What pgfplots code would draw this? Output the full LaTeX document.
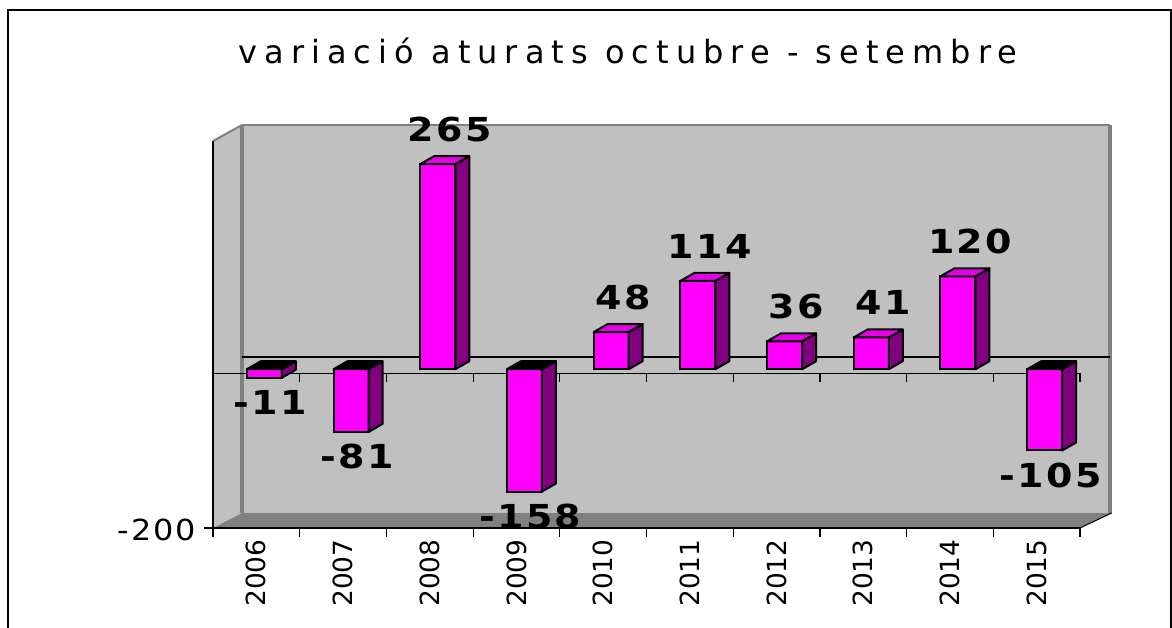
\documentclass[border=0pt]{standalone}
\usepackage{fontspec}
\setmainfont{DejaVu Sans}
\newfontfamily\labfont[LetterSpace=7,FakeStretch=1.15]{DejaVu Sans}
\newfontfamily\titlefont[LetterSpace=22]{DejaVu Sans}
\newfontfamily\yfont[LetterSpace=6,FakeStretch=1.1]{DejaVu Sans}
\usepackage{pgfplots}
\pgfplotsset{compat=1.18}
\usepackage{pgfplotstable}
\definecolor{wall}{HTML}{C0C0C0}
\definecolor{floorc}{HTML}{808080}
\definecolor{sidecol}{HTML}{800080}
\definecolor{mag}{HTML}{FF00FF}
\definecolor{topcol}{HTML}{E600E6}

\pgfplotstableread{
x val
0.5 -11
1.5 -81
2.5 265
3.5 -158
4.5 48
5.5 114
6.5 36
7.5 41
8.5 120
9.5 -105
}\data

% 3D extrusion (side and top faces) of a bar, drawn at the data point
\pgfdeclareplotmark{ext}{%
  \pgfmathsetmacro\hh{\ry*0.387}%
  \pgfmathsetmacro\nh{-\hh}%
  \pgfmathsetmacro\ya{4+\nh}%
  \pgfmathsetmacro\tp{max(0,\nh)}%
  \pgfmathsetmacro\tq{\tp+4}%
  \pgfsetlinewidth{1pt}\pgfsetroundjoin
  \pgfsetstrokecolor{black}%
  \pgfsetfillcolor{sidecol}%
  \pgfpathmoveto{\pgfqpoint{8.75pt}{0pt}}%
  \pgfpathlineto{\pgfqpoint{15.75pt}{4pt}}%
  \pgfpathlineto{\pgfqpoint{15.75pt}{\ya pt}}%
  \pgfpathlineto{\pgfqpoint{8.75pt}{\nh pt}}%
  \pgfpathclose
  \pgfusepath{fill,stroke}%
  \ifdim\hh pt>0pt \pgfsetfillcolor{topcol}\else\pgfsetfillcolor{black}\fi
  \pgfpathmoveto{\pgfqpoint{-8.75pt}{\tp pt}}%
  \pgfpathlineto{\pgfqpoint{8.75pt}{\tp pt}}%
  \pgfpathlineto{\pgfqpoint{15.75pt}{\tq pt}}%
  \pgfpathlineto{\pgfqpoint{-1.75pt}{\tq pt}}%
  \pgfpathclose
  \pgfusepath{fill,stroke}%
}

\begin{document}
\begin{tikzpicture}
\useasboundingbox (0pt,0pt) rectangle (586pt,-313.5pt);
% chart frame
\draw[black, line width=0.7pt] (4pt,-330pt) -- (4pt,-5pt) -- (585.5pt,-5pt) -- (585.5pt,-330pt);
% title
\node[anchor=base, font=\titlefont\fontsize{16}{19}\selectfont] at (314pt,-31.5pt) {variació aturats octubre - setembre};
% side wall
\fill[wall] (106.5pt,-70.5pt) -- (121pt,-62.5pt) -- (121pt,-256.5pt) -- (106.5pt,-264pt) -- cycle;
\draw[floorc, line width=1pt] (106.5pt,-70.5pt) -- (121pt,-62.5pt);
% back wall
\fill[wall] (121pt,-62.5pt) rectangle (555pt,-256.5pt);
\draw[floorc, line width=1pt] (121pt,-62.5pt) -- (555pt,-62.5pt);
\draw[floorc, line width=1.6pt] (121pt,-62.5pt) -- (121pt,-256.5pt);
\draw[floorc, line width=1.6pt] (555pt,-62.5pt) -- (555pt,-257pt);
% floor
\fill[floorc] (106.5pt,-264pt) -- (121pt,-256.5pt) -- (555.8pt,-256.5pt) -- (540pt,-264pt) -- cycle;
\draw[black, line width=0.5pt] (540pt,-264pt) -- (555.8pt,-256.5pt);
% back zero line
\draw[black, line width=0.6pt] (121pt,-178.5pt) -- (555pt,-178.5pt);

\begin{axis}[
  at={(106.5pt,-264pt)}, anchor=south west,
  scale only axis, width=433.5pt, height=193.5pt,
  xmin=0, xmax=10, ymin=-200, ymax=300,
  axis x line*=bottom, axis y line*=left,
  axis line style={black, line width=0.6pt, -},
  xtick={0,1,...,10},
  x tick label as interval,
  xticklabels={2006,2007,2008,2009,2010,2011,2012,2013,2014,2015},
  ytick={-200}, yticklabels={-200},
  tick align=outside,
  major tick length=4.5pt,
  tick style={black, line width=0.6pt},
  xticklabel style={rotate=90, anchor=east, font=\fontsize{13.2}{15}\selectfont, inner sep=1pt},
  yticklabel style={font=\yfont\fontsize{14.5}{16}\selectfont, inner sep=4pt, yshift=-1pt},
  clip=false,
]
\draw[black, line width=0.6pt] (axis cs:0,0) -- (axis cs:10,0);
\pgfplotsinvokeforeach{0,1,...,10}{\draw[black, line width=0.6pt] (axis cs:#1,0) -- ++(0pt,-4.5pt);}
\end{axis}

\begin{axis}[
  at={(110.5pt,-262pt)}, anchor=south west,
  scale only axis, width=433.5pt, height=193.5pt,
  xmin=0, xmax=10, ymin=-200, ymax=300,
  hide axis, clip=false,
]
\addplot[only marks, mark=ext, visualization depends on={rawy \as \ry}]
  table[x=x, y=val] {\data};
\addplot[ybar, bar width=17.5pt, bar shift=0pt, fill=mag, draw=black, line width=1pt,
  visualization depends on={rawy \as \ry},
  nodes near coords, /pgf/number format/assume math mode=true,
  every node near coord/.append style={font=\labfont\bfseries\fontsize{16.5}{19}\selectfont,
    anchor=center, text=black,
    xshift={\ry>0 ? 6pt : 3pt}, yshift={\ry>0 ? 17.5pt : -12.5pt}}]
  table[x=x, y=val] {\data};
\end{axis}
\end{tikzpicture}
\end{document}
